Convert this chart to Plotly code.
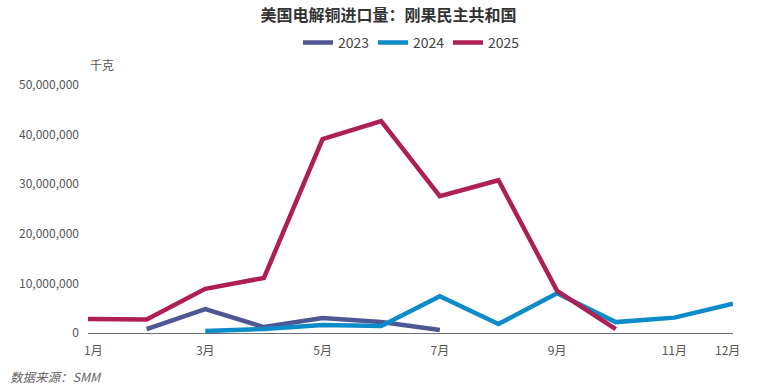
import plotly.graph_objects as go

months = list(range(1, 13))
tick_vals = [1, 3, 5, 7, 9, 11, 12]
tick_text = ["\u00a0\u00a0\u00a0\u00a01月", "3月", "5月", "7月", "9月", "11月", "12月\u00a0\u00a0\u00a0\u00a0"]

v2023 = [None, 0.8e6, 4.8e6, 1.2e6, 3.0e6, 2.2e6, 0.6e6, None, None, None, None, None]
v2024 = [None, None, 0.4e6, 0.8e6, 1.6e6, 1.4e6, 7.4e6, 1.8e6, 8.0e6, 2.2e6, 3.1e6, 5.9e6]
v2025 = [2.8e6, 2.7e6, 8.9e6, 11.1e6, 39.1e6, 42.7e6, 27.6e6, 30.8e6, 8.5e6, 0.8e6, None, None]

series = [("2023", v2023, "#4e5794"), ("2024", v2024, "#0b8bc8"), ("2025", v2025, "#ae1f54")]

fig = go.Figure()
for name, vals, color in series:
    fig.add_trace(go.Scatter(x=months, y=vals, name=name, mode="lines",
                             line=dict(color=color, width=4.5), connectgaps=False))

font_family = "Noto Sans CJK SC, Noto Sans, sans-serif"
fig.update_layout(
    width=777, height=390,
    margin=dict(l=88, r=44, t=85, b=57, autoexpand=False),
    paper_bgcolor="white", plot_bgcolor="white",
    font=dict(family=font_family, color="#555", size=12),
    title=dict(text="<b>美国电解铜进口量：刚果民主共和国</b>", x=0.5, xanchor="center",
               yref="container", y=0.96, yanchor="middle", font=dict(size=16, color="#333")),
    legend=dict(orientation="h", x=0.5, xanchor="center", yref="container", y=0.89,
                yanchor="middle", font=dict(size=14, color="#444"), itemwidth=30,
                entrywidth=30, entrywidthmode="pixels",
                bgcolor="rgba(0,0,0,0)"),
    showlegend=True,
    xaxis=dict(range=[1, 12], tickvals=tick_vals, ticktext=tick_text, showgrid=False,
               showline=True, linecolor="#6e7079", linewidth=1, ticks="", zeroline=False,
               automargin=False, ticklabelstandoff=7, tickfont=dict(size=12, color="#555")),
    yaxis=dict(range=[0, 50e6], tickvals=[0, 10e6, 20e6, 30e6, 40e6, 50e6],
               tickformat=",d", showgrid=False, zeroline=False, showline=False,
               automargin=False, ticks="", ticklabelstandoff=8,
               tickfont=dict(size=12, color="#555")),
    annotations=[
        dict(text="千克", xref="paper", yref="paper", x=0, y=1.04, xanchor="left",
             yanchor="bottom", showarrow=False, font=dict(size=12, color="#555")),
        dict(text="<i>数据来源：SMM</i>", xref="paper", yref="paper", x=-0.124, y=-0.177,
             xanchor="left", yanchor="middle", showarrow=False, font=dict(size=12.5, color="#666")),
    ],
)

fig.write_html("out.html", post_script="document.body.style.margin='0';",
               config={"displayModeBar": False})
